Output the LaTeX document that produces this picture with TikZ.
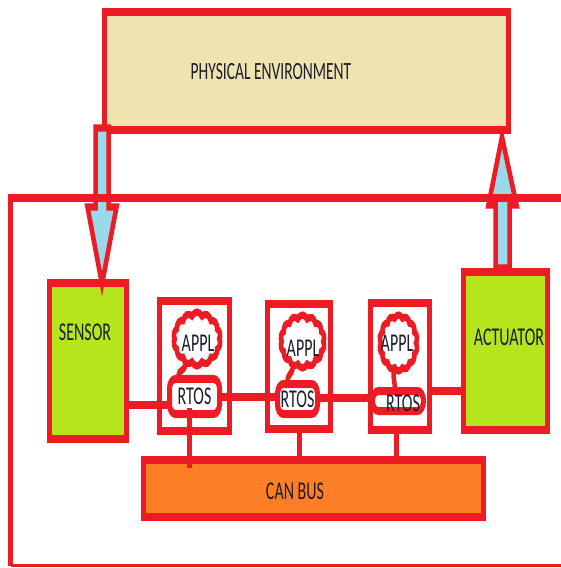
\documentclass[tikz,border=0pt]{standalone}
\usepackage{fontspec}
\setmainfont{Carlito}
\usetikzlibrary{shapes.symbols}
\definecolor{pred}{HTML}{ED1C24}
\definecolor{envfill}{HTML}{EFE4B0}
\definecolor{boxgreen}{HTML}{B5E61D}
\definecolor{busorange}{HTML}{FF7F27}
\definecolor{arrowblue}{HTML}{99D9EA}
\definecolor{txtc}{HTML}{1C1C2C}
\begin{document}
\begin{tikzpicture}
\useasboundingbox (0pt,0pt) rectangle (561pt,-568pt);
\fill[white] (0pt,0pt) rectangle (561pt,-568pt);
\begin{scope}[transform canvas={yscale=1.6}, x=1pt, y=-0.625pt,
  box/.style={rectangle, draw=pred, line width=5pt, inner sep=0pt},
  rtosbox/.style={box, fill=white, rounded corners=6pt, text=txtc, font=\fontsize{16}{18}\selectfont},
  lbl/.style={text=txtc, font=\fontsize{16}{18}\selectfont, inner sep=0pt},
  wire/.style={draw=pred, line width=5pt},
  blockarrow/.style={draw=pred, fill=arrowblue, line width=4.5pt},
  appcloud/.style={cloud, draw=pred, fill=white, line width=4.5pt, cloud puffs=14, cloud puff arc=115, cloud ignores aspect, inner sep=0pt},
  tail/.style={draw=pred, line width=4.5pt, line cap=round}]

% physical environment
\node[box, fill=envfill, minimum width=404pt, minimum height=73.75pt] (env) at (306.5,71) {};
\node[lbl, font=\fontsize{15.5}{18}\selectfont] (envtxt) at (271,72) {PHYSICAL ENVIRONMENT};

% sensor and actuator boxes (drawn before arrows' tips)
\node[box, fill=boxgreen, minimum width=77pt, minimum height=97.5pt] (sensor) at (88,361) {};
\node[box, fill=boxgreen, minimum width=84pt, minimum height=98.75pt] (actuator) at (505.5,351) {};

% block arrows
\path[blockarrow] (95.5,128) -- (108.5,128) -- (108.5,207) -- (116.5,207) -- (102,284)
  -- (87.5,207) -- (95.5,207) -- cycle;
\path[blockarrow] (495.5,268) -- (509.5,268) -- (509.5,205) -- (516.5,205) -- (502,137)
  -- (488.5,205) -- (495.5,205) -- cycle;

% system frame
\draw[pred, line width=5pt] (570,198) -- (10.5,198) -- (10.5,566);
\draw[pred, line width=2pt] (10.5,565.5) -- (570,565.5);

% labels of sensor / actuator
\node[lbl] (sensortxt) at (85,332) {SENSOR};
\node[lbl] (actuatortxt) at (509,337) {ACTUATOR};

% ECU boxes
\node[box, fill=white, minimum width=70pt, minimum height=81.25pt] (ecu1) at (194.5,366) {};
\node[box, fill=white, minimum width=63pt, minimum height=78.1pt] (ecu2) at (299,366.5) {};
\node[box, fill=white, minimum width=59pt, minimum height=79.4pt] (ecu3) at (400,366.5) {};

% CAN bus
\node[box, fill=busorange, minimum width=340pt, minimum height=35.6pt] (can) at (313.5,488.5) {};
\node[lbl] (cantxt) at (295,491) {CAN BUS};

% RTOS boxes
\node[rtosbox, minimum width=50pt, minimum height=21.9pt] (r1) at (194.5,396.5) {RTOS};
\node[rtosbox, minimum width=40pt, minimum height=18.75pt] (r2) at (297.5,399) {RTOS};
\node[rtosbox, minimum width=51pt, minimum height=12.5pt] (r3) at (398,401) {};
\node[lbl] (r3txt) at (403,403) {RTOS};

% horizontal wires
\draw[wire, line cap=round] (sensor.east |- 0,405) -- (r1.west |- 0,405);
\draw[wire] (r1.east |- 0,397) -- (r2.west |- 0,397);
\draw[wire] (r2.east |- 0,398) -- (r3.west |- 0,398);
\draw[wire] (ecu3.east |- 0,391) -- (actuator.west |- 0,391);

% stubs to CAN bus
\draw[wire] (299,0 |- ecu2.south) -- (299,0 |- can.north);
\draw[wire] (396,0 |- ecu3.south) -- (396,0 |- can.north);
\coordinate (s1top) at (189,408);
\coordinate (s1end) at (189,468);
\draw[wire] (s1top) -- (s1end);

% clouds
\node[appcloud, minimum width=47pt, minimum height=33.75pt] (c1) at (197,339) {};
\node[appcloud, minimum width=44pt, minimum height=33.1pt] (c2) at (302.5,341.5) {};
\node[appcloud, minimum width=38pt, minimum height=35pt] (c3) at (398.5,343) {};
\draw[tail] (c1.235) to[out=240, in=70] (r1.140);
\draw[tail] (c2.240) to[out=250, in=80] (r2.130);
\draw[tail] (c3.255) to[out=265, in=95] (r3.110);
\node[lbl] (a1) at (198,343) {APPL};
\node[lbl] (a2) at (303,348) {APPL};
\node[lbl] (a3) at (397,343) {APPL};
\end{scope}
\end{tikzpicture}
\end{document}
